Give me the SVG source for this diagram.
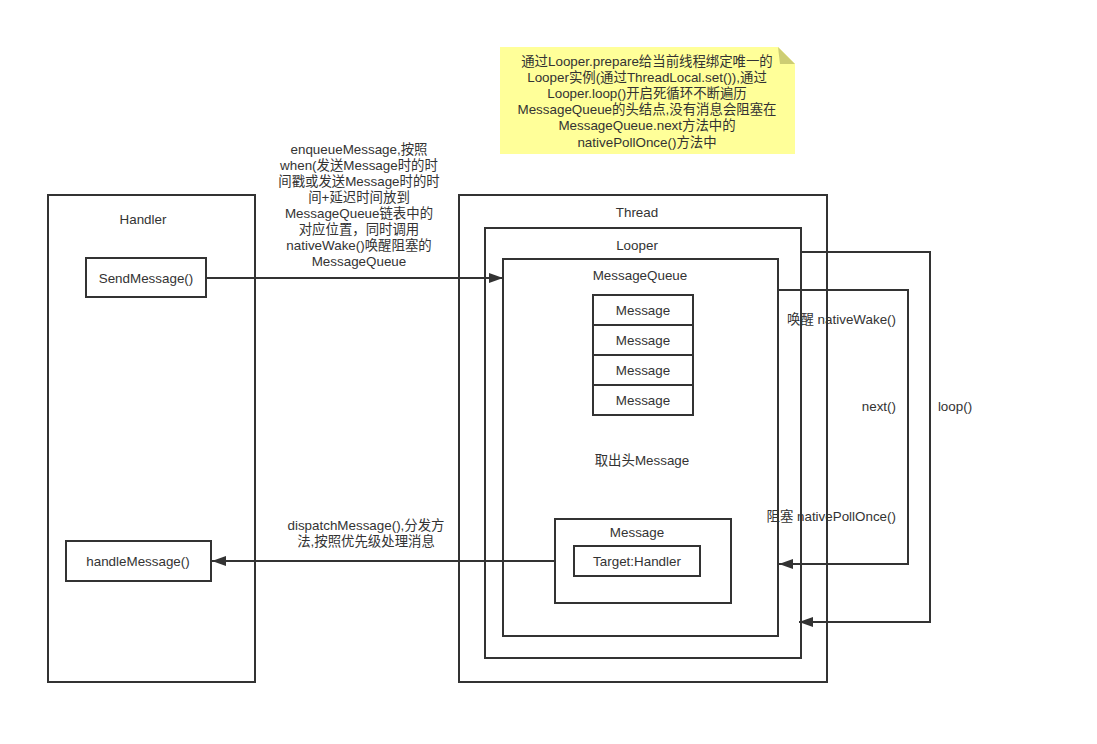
<svg xmlns="http://www.w3.org/2000/svg" width="1097" height="744" viewBox="0 0 1097 744">
<style>
  text { font-family: "Liberation Sans", "Noto Sans CJK SC", sans-serif; font-size: 13.4px; fill: #333; text-anchor: middle; dominant-baseline: central; }
  .box { fill: #fff; stroke: #333; stroke-width: 2; }
  .frame { fill: none; stroke: #333; stroke-width: 2; }
  .conn { fill: none; stroke: #333; stroke-width: 2; }
  .r { text-anchor: end; }
</style>
<defs>
  <marker id="arr" viewBox="0 0 14 10" refX="14" refY="5" markerWidth="14" markerHeight="10" markerUnits="userSpaceOnUse" orient="auto">
    <path d="M0,0 L14,5 L0,10 z" fill="#333"/>
  </marker>
</defs>
<rect width="1097" height="744" fill="#fff"/>

<g id="note">
  <polygon points="500,47 778,47 795,64 795,154 500,154" fill="#ffff99"/>
  <polygon points="778,47 780,64 795,64" fill="#cdcd73"/>
  <text x="647" y="61">通过Looper.prepare给当前线程绑定唯一的</text>
  <text x="647" y="77">Looper实例(通过ThreadLocal.set()),通过</text>
  <text x="647" y="93">Looper.loop()开启死循环不断遍历</text>
  <text x="647" y="109">MessageQueue的头结点,没有消息会阻塞在</text>
  <text x="647" y="125">MessageQueue.next方法中的</text>
  <text x="647" y="142">nativePollOnce()方法中</text>
</g>

<g id="handler">
  <rect class="frame" x="48" y="195" width="207" height="487"/>
  <text x="143" y="219">Handler</text>
</g>
<g id="sendMessage">
  <rect class="box" x="86" y="258" width="120" height="39"/>
  <text x="146" y="278">SendMessage()</text>
</g>
<g id="handleMessage">
  <rect class="box" x="66" y="541" width="145" height="40"/>
  <text x="138" y="561">handleMessage()</text>
</g>

<g id="thread">
  <rect class="frame" x="459" y="195" width="368" height="487"/>
  <text x="637" y="212">Thread</text>
</g>
<g id="looper">
  <rect class="frame" x="485" y="228" width="316" height="430"/>
  <text x="637" y="245">Looper</text>
</g>
<g id="messageQueue">
  <rect class="frame" x="503" y="259" width="275" height="377"/>
  <text x="640" y="275">MessageQueue</text>
  <text x="642" y="460">取出头Message</text>
</g>
<g id="queueMessages">
  <rect class="box" x="593" y="295" width="100" height="30"/>
  <text x="643" y="310">Message</text>
  <rect class="box" x="593" y="325" width="100" height="30"/>
  <text x="643" y="340">Message</text>
  <rect class="box" x="593" y="355" width="100" height="30"/>
  <text x="643" y="370">Message</text>
  <rect class="box" x="593" y="385" width="100" height="30"/>
  <text x="643" y="400">Message</text>
</g>
<g id="headMessage">
  <rect class="box" x="555" y="519" width="176" height="84"/>
  <text x="637" y="532">Message</text>
</g>
<g id="target">
  <rect class="box" x="574" y="546" width="126" height="30"/>
  <text x="637" y="561">Target:Handler</text>
</g>

<g id="connectors">
  <path class="conn" d="M206,278 H503" marker-end="url(#arr)"/>
  <path class="conn" d="M555,561 H212" marker-end="url(#arr)"/>
  <path class="conn" d="M778,290 H908 V564 H779" marker-end="url(#arr)"/>
  <path class="conn" d="M801,252 H930 V622 H799" marker-end="url(#arr)"/>
</g>

<g id="labels">
  <text x="359" y="149">enqueueMessage,按照</text>
  <text x="359" y="165">when(发送Message时的时</text>
  <text x="359" y="181">间戳或发送Message时的时</text>
  <text x="359" y="197">间+延迟时间放到</text>
  <text x="359" y="213">MessageQueue链表中的</text>
  <text x="359" y="229">对应位置，同时调用</text>
  <text x="359" y="245">nativeWake()唤醒阻塞的</text>
  <text x="359" y="261">MessageQueue</text>
  <text x="366" y="525">dispatchMessage(),分发方</text>
  <text x="366" y="541">法,按照优先级处理消息</text>
  <text class="r" x="896" y="319">唤醒 nativeWake()</text>
  <text class="r" x="896" y="406">next()</text>
  <text class="r" x="896" y="516">阻塞 nativePollOnce()</text>
  <text x="955" y="406">loop()</text>
</g>
</svg>
